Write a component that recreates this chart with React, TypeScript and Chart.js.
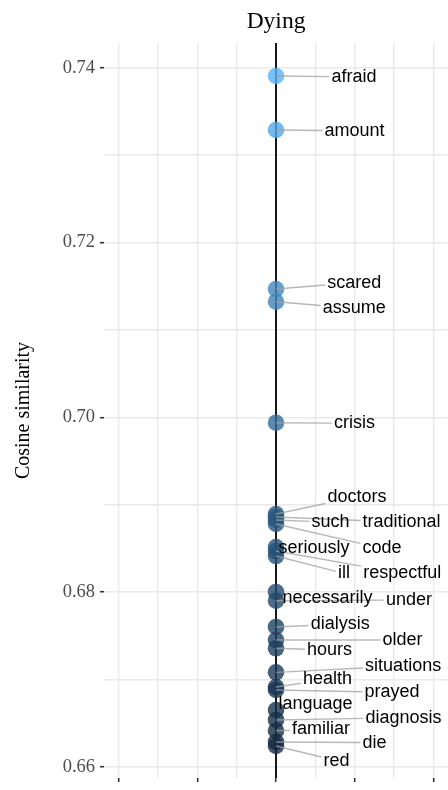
import React, { useEffect, useRef } from 'react';
import { Chart, registerables } from 'chart.js';

Chart.register(...registerables);

// ---- data ----
const WORDS = [
  'afraid', 'amount', 'scared', 'assume', 'crisis',
  'doctors', 'traditional', 'such', 'code',
  'seriously', 'respectful', 'ill',
  'necessarily', 'under', 'dialysis', 'older', 'hours',
  'situations', 'health', 'prayed', 'language', 'diagnosis',
  'familiar', 'die', 'red',
];
const SIMILARITY = [
  0.73905, 0.73287, 0.71467, 0.71322, 0.69937,
  0.68892, 0.68858, 0.68824, 0.68778,
  0.68514, 0.68468, 0.68411,
  0.68000, 0.67900, 0.67599, 0.67450, 0.67355,
  0.67080, 0.66912, 0.66878, 0.66649, 0.66535,
  0.66412, 0.66283, 0.66237,
];
// label anchor (text centre) in data units
const LABEL_X = [
  0.990, 0.997, 0.993, 0.993, 0.997,
  1.029, 1.594, 0.692, 1.346,
  0.483, 1.604, 0.863,
  0.654, 1.689, 0.815, 1.606, 0.679,
  1.615, 0.654, 1.473, 0.502, 1.619,
  0.571, 1.251, 0.768,
];
const LABEL_Y = [
  0.73894, 0.73276, 0.71539, 0.71246, 0.69930,
  0.69090, 0.68797, 0.68797, 0.68500,
  0.68500, 0.68213, 0.68213,
  0.67927, 0.67908, 0.67633, 0.67450, 0.67336,
  0.67152, 0.67000, 0.66851, 0.66714, 0.66561,
  0.66428, 0.66275, 0.66069,
];
const Y_TICKS = [0.66, 0.67, 0.68, 0.69, 0.70, 0.71, 0.72, 0.73, 0.74];
const Y_TICK_LABELS = ['0.66', '', '0.68', '', '0.70', '', '0.72', '', '0.74'];
const X_TICKS = [-2, -1.5, -1, -0.5, 0, 0.5, 1, 1.5, 2];

const LOW = [19, 43, 67];
const HIGH = [86, 177, 247];
const ALPHA = 0.8;

const SERIF = '"Liberation Serif", "Times New Roman", serif';

function colorFor(v: number, min: number, max: number) {
  const t = (v - min) / (max - min);
  const c = LOW.map((l, i) => Math.round(l + (HIGH[i] - l) * t));
  return `rgba(${c[0]},${c[1]},${c[2]},${ALPHA})`;
}

const zeroLinePlugin = {
  id: 'zeroLine',
  beforeDatasetsDraw(chart: any) {
    const { ctx, chartArea, scales } = chart;
    const x = scales.x.getPixelForValue(0);
    ctx.save();
    ctx.strokeStyle = '#000';
    ctx.lineWidth = 1.8;
    ctx.beginPath();
    ctx.moveTo(x, chartArea.top);
    ctx.lineTo(x, chartArea.bottom);
    ctx.stroke();
    ctx.restore();
  },
};

const labelPlugin = {
  id: 'repelLabels',
  afterDatasetsDraw(chart: any) {
    const { ctx, scales } = chart;
    const xs = scales.x;
    const ys = scales.y;
    ctx.save();
    ctx.font = '18px "Liberation Sans", Arial, sans-serif';
    ctx.textAlign = 'center';
    ctx.textBaseline = 'middle';
    const items = WORDS.map((w, i) => {
      const px = xs.getPixelForValue(0);
      const py = ys.getPixelForValue(SIMILARITY[i]);
      const cx = xs.getPixelForValue(LABEL_X[i]);
      const cy = ys.getPixelForValue(LABEL_Y[i]);
      const tw = ctx.measureText(w).width;
      return { w, px, py, cx, cy, tw };
    });
    ctx.strokeStyle = 'rgba(160,160,160,0.75)';
    ctx.lineWidth = 1.4;
    items.forEach((it) => {
      const dx = it.px - it.cx;
      const dy = it.py - it.cy;
      const hw = it.tw / 2 + 2;
      const hh = 8;
      const tx = Math.abs(dx) > 1e-6 ? hw / Math.abs(dx) : Infinity;
      const ty = Math.abs(dy) > 1e-6 ? hh / Math.abs(dy) : Infinity;
      const t = Math.min(tx, ty);
      if (t >= 1) return;
      const ex = it.cx + dx * t;
      const ey = it.cy + dy * t;
      const len = Math.hypot(ex - it.px, ey - it.py);
      if (len < 8) return;
      ctx.beginPath();
      ctx.moveTo(it.px, it.py);
      ctx.lineTo(ex, ey);
      ctx.stroke();
    });
    ctx.fillStyle = '#000';
    items.forEach((it) => {
      ctx.fillText(it.w, it.cx, it.cy);
    });
    ctx.restore();
  },
};

export default function App() {
  const ref = useRef<HTMLCanvasElement | null>(null);

  useEffect(() => {
    if (!ref.current) return;
    const min = Math.min(...SIMILARITY);
    const max = Math.max(...SIMILARITY);
    const chart = new Chart(ref.current, {
      type: 'scatter',
      data: {
        datasets: [
          {
            data: SIMILARITY.map((v) => ({ x: 0, y: v })),
            backgroundColor: SIMILARITY.map((v) => colorFor(v, min, max)),
            borderWidth: 0,
            pointRadius: 8.3,
            pointHoverRadius: 8.3,
          },
        ],
      },
      options: {
        animation: false,
        responsive: false,
        devicePixelRatio: 1,
        events: [],
        layout: { padding: 0, autoPadding: false },
        plugins: {
          legend: { display: false },
          tooltip: { enabled: false },
          title: {
            display: true,
            text: 'Dying',
            fullSize: false,
            color: '#000',
            font: { family: SERIF, size: 23.5, weight: 'normal' },
            padding: { top: 8, bottom: 6.8 },
          },
        },
        scales: {
          x: {
            type: 'linear',
            min: -2.185,
            max: 2.185,
            afterBuildTicks: (s: any) => {
              s.ticks = X_TICKS.map((v) => ({ value: v }));
            },
            afterFit: (s: any) => {
              s.height = 12;
              s.paddingLeft = 0;
              s.paddingRight = 0;
              s.paddingTop = 0;
              s.paddingBottom = 0;
            },
            ticks: { display: false },
            border: { display: false },
            grid: {
              color: '#EAEAEA',
              lineWidth: 1.4,
              drawTicks: true,
              tickLength: 4,
              tickWidth: 1.6,
              tickColor: (c: any) => (Number.isInteger(c.tick?.value) ? '#333' : 'rgba(0,0,0,0)'),
            },
          },
          y: {
            type: 'linear',
            min: 0.658707,
            max: 0.742827,
            afterBuildTicks: (s: any) => {
              s.ticks = Y_TICKS.map((v) => ({ value: v }));
            },
            afterFit: (s: any) => {
              s.width = 104;
              s.paddingLeft = 0;
              s.paddingRight = 0;
              s.paddingTop = 0;
              s.paddingBottom = 0;
            },
            ticks: {
              autoSkip: false,
              padding: 5,
              color: '#4D4D4D',
              font: { family: SERIF, size: 18.5 },
              callback: (_v: any, i: number) => Y_TICK_LABELS[i],
            },
            border: { display: false },
            grid: {
              color: '#EAEAEA',
              lineWidth: 1.4,
              drawTicks: true,
              tickLength: 4,
              tickWidth: 1.6,
              tickColor: (c: any) => (c.index % 2 === 0 ? '#333' : 'rgba(0,0,0,0)'),
            },
            title: {
              display: true,
              text: 'Cosine similarity',
              color: '#000',
              font: { family: SERIF, size: 20 },
              padding: { top: 12, bottom: 0 },
            },
          },
        },
      },
      plugins: [zeroLinePlugin, labelPlugin],
    } as any);
    return () => chart.destroy();
  }, []);

  return (
    <div style={{ position: 'absolute', left: 0, top: 0, width: 448, height: 790, background: '#fff' }}>
      <canvas ref={ref} width={448} height={790} style={{ display: 'block', width: 448, height: 790 }} />
    </div>
  );
}
